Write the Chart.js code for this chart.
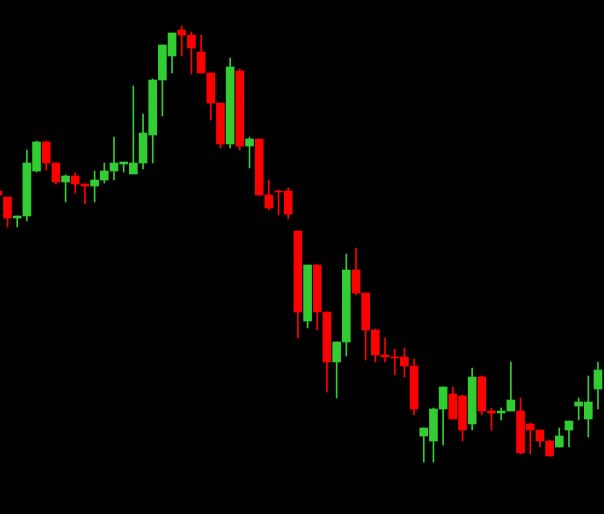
<!DOCTYPE html>
<html>
<head>
<meta charset="utf-8">
<script src="https://cdn.jsdelivr.net/npm/chart.js@4.4.1/dist/chart.umd.min.js"></script>
<style>
  html, body { margin: 0; padding: 0; background: #000; }
  #wrap { width: 604px; height: 514px; }
</style>
</head>
<body>
<div id="wrap"><canvas id="c" width="604" height="514"></canvas></div>
<script>
// candle prices, one entry per bar (first bar is cut off at the left edge)
const opens  = [323,317,296,298,343,372,351,332,338,330,328,334,343,350,340,351,379,434,458,484,479,462,441,411,370,443,368,375,319,323,323,
                283,193,249,202,152,172,244,221,184,159,157,157,148,78,73,105,120,118,90,137,103,101,103,103,90,84,73,67,84,108,95,125];
const highs  = [325,317,298,364,373,373,351,339,341,330,343,351,377,352,428,400,435,469,481,488,482,479,441,411,456,445,377,375,334,324,326,
                283,249,249,202,172,260,266,221,185,176,165,166,155,86,106,127,127,119,146,138,106,106,152,116,91,84,74,86,93,116,138,152];
const lows   = [317,287,287,293,342,344,330,312,321,310,312,331,334,342,340,345,351,398,441,458,440,441,394,366,366,364,346,319,304,299,295,
                176,186,184,122,116,158,219,154,152,152,139,137,99,52,52,69,95,73,84,99,84,94,103,60,60,67,58,67,67,94,77,105];
const closes = [319,296,298,351,372,351,332,338,330,328,334,343,351,352,351,381,434,469,481,479,466,441,411,370,447,368,375,319,306,322,300,
                202,249,202,152,172,244,221,184,159,157,156,148,105,86,105,127,95,84,137,103,101,103,114,61,84,73,58,78,93,112,112,144];

const UP = '#32cd32';
const DOWN = '#ff0000';

const colors = opens.map((o, i) => closes[i] >= o ? UP : DOWN);
const bodies = opens.map((o, i) => ({ x: i, y: [o, closes[i]] }));
const wicks = opens.map((o, i) => ({ x: i, y: [lows[i], highs[i]] }));

new Chart(document.getElementById('c'), {
  type: 'bar',
  data: {
    datasets: [
      { data: wicks, backgroundColor: colors, barThickness: 1, grouped: false, borderWidth: 0, order: 2 },
      { data: bodies, backgroundColor: colors, barThickness: 8, grouped: false, borderWidth: 0, order: 1 }
    ]
  },
  options: {
    responsive: false,
    animation: false,
    layout: { padding: 0 },
    plugins: { legend: { display: false }, tooltip: { enabled: false } },
    scales: {
      x: { type: 'linear', min: 0.225, max: 62.62, offset: false, display: false },
      y: { type: 'linear', min: 0, max: 514, display: false }
    }
  }
});
</script>
</body>
</html>
